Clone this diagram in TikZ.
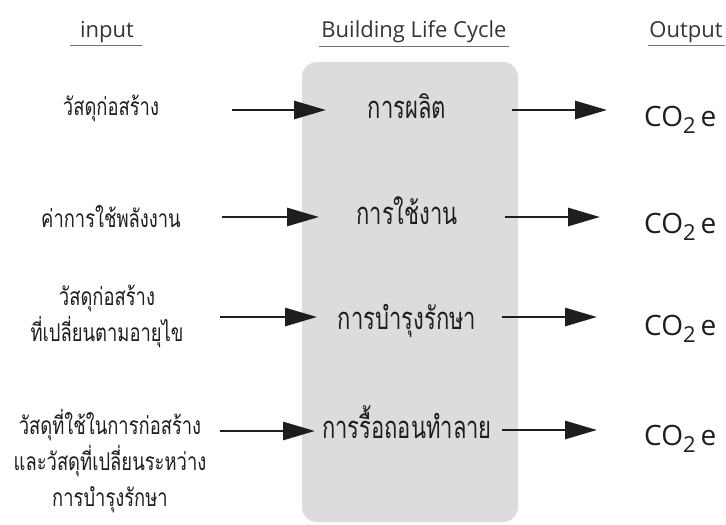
\documentclass[tikz,border=0pt]{standalone}
\usepackage{fontspec}
\setmainfont{Open Sans}
\newfontfamily\thaifont[Script=Thai,FakeStretch=0.75]{Loma}
\newfontfamily\thaistage[Script=Thai,FakeStretch=0.71]{Loma}
\usetikzlibrary{arrows.meta}
\definecolor{boxgray}{HTML}{DCDCDC}
\definecolor{ink}{HTML}{1E1E1E}
\tikzset{
  hdr/.style={font=\fontsize{22}{24}\selectfont, text=ink!90, inner xsep=0pt, inner ysep=3pt},
  inp/.style={font=\thaifont\fontsize{24.5}{36}\selectfont, text=ink, align=center, inner sep=0pt},
  stage/.style={font=\thaistage\fontsize{31}{32}\selectfont, text=ink, inner sep=0pt, anchor=base},
  outp/.style={font=\fontsize{28}{30}\selectfont, text=ink, inner sep=0pt, anchor=base west},
  flow/.style={line width=2.8pt, draw=ink, -{Triangle[length=32pt,width=18pt]}},
  uline/.style={line width=0.9pt, draw=black!55},
  lifebox/.style={fill=boxgray, rounded corners=15pt, minimum width=216pt, minimum height=460pt, inner sep=0pt}
}
\newcommand{\cotwo}{CO\raisebox{-7pt}{\fontsize{22}{22}\selectfont 2}\hspace{5pt}e}
\begin{document}
\begin{tikzpicture}[x=1pt,y=-1pt]
\useasboundingbox[fill=white] (0,0) rectangle (726,525);
% life-cycle box
\node[lifebox] (box) at (410,292) {};
% headers
\node[hdr] (hin) at (107,32) {input};
\node[hdr] (hbl) at (414,32) {Building Life Cycle};
\node[hdr] (hout) at (686,32) {Output};
\draw[uline] ([xshift=-10pt]hin.south west) -- ([xshift=8pt]hin.south east);
\draw[uline] ([xshift=-2pt]hbl.south west) -- ([xshift=2pt]hbl.south east);
\draw[uline] ([xshift=-1pt]hout.south west) -- ([xshift=2pt]hout.south east);
% inputs
\node[inp] (in1) at (111,108) {วัสดุก่อสร้าง};
\node[inp] (in2) at (111,217) {ค่าการใช้พลังงาน};
\node[inp] (in3) at (107,316) {วัสดุก่อสร้าง\\ที่เปลี่ยนตามอายุไข};
\node[inp] (in4) at (110,461) {วัสดุที่ใช้ในการก่อสร้าง\\และวัสดุที่เปลี่ยนระหว่าง\\การบำรุงรักษา};
% stages
\node[stage] (p1) at (407,118) {การผลิต};
\node[stage] (p2) at (407,224) {การใช้งาน};
\node[stage] (p3) at (407,329) {การบำรุงรักษา};
\node[stage] (p4) at (407,438) {การรื้อถอนทำลาย};
% outputs
\node[outp] (o1) at (644,126) {\cotwo};
\node[outp] (o2) at (644,233) {\cotwo};
\node[outp] (o3) at (644,335) {\cotwo};
\node[outp] (o4) at (644,445) {\cotwo};
% arrow ends
\coordinate (l1s) at (232,110); \coordinate (l1e) at (326,110);
\coordinate (l2s) at (222,217); \coordinate (l2e) at (319,217);
\coordinate (l3s) at (220,317); \coordinate (l3e) at (317,317);
\coordinate (l4s) at (220,431); \coordinate (l4e) at (315,431);
\coordinate (r1s) at (512,110); \coordinate (r1e) at (607,110);
\coordinate (r2s) at (505,217); \coordinate (r2e) at (600,217);
\coordinate (r3s) at (502,317); \coordinate (r3e) at (597,317);
\coordinate (r4s) at (502,430); \coordinate (r4e) at (597,430);
\foreach \i in {1,2,3,4} {
  \draw[flow] (l\i s) -- (l\i e);
  \draw[flow] (r\i s) -- (r\i e);
}
\end{tikzpicture}
\end{document}
